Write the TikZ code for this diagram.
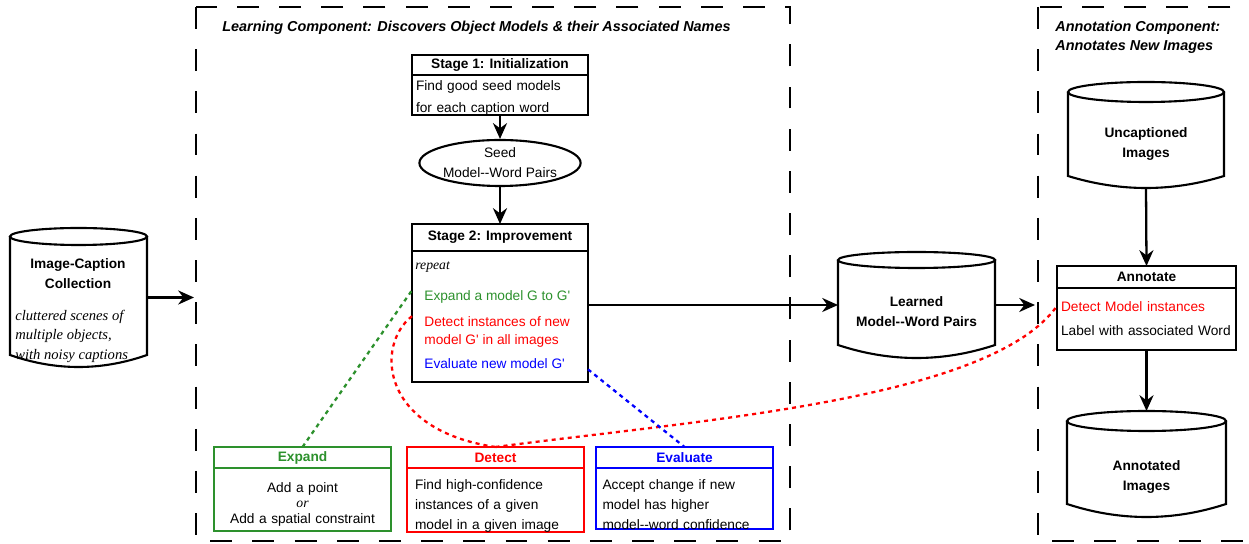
\documentclass[tikz,border=0pt]{standalone}
\usepackage{fontspec}
\setmainfont{Liberation Sans}
\newfontfamily\tnr{Liberation Serif}
\usepackage{xcolor}
\usetikzlibrary{positioning,calc,shapes.geometric,arrows.meta}

\definecolor{expgreen}{RGB}{45,145,45}

% data store outline: node, top ellipse radius, bottom dip (px)
\newcommand{\drawstore}[3]{%
  \draw[storeline] ($(#1.north west)+(0,#2)$) -- ($(#1.south west)+(0,-#3)$)
    .. controls ($(#1.south west)!0.333!(#1.south east)+(0,#3/3)$)
    and ($(#1.south west)!0.667!(#1.south east)+(0,#3/3)$)
    .. ($(#1.south east)+(0,-#3)$) -- ($(#1.north east)+(0,#2)$);
  \draw[storeline] let \p1=($(#1.north east)-(#1.north west)$) in
    ($(#1.north)+(0,#2)$) ellipse [x radius=0.5*\x1, y radius=#2*0.2mm];
}
% push a body text down a little
\newcommand{\topgap}[1]{\rule{0pt}{#1}}

\begin{document}
\begin{tikzpicture}[x=0.2mm,y=-0.2mm,
    every node/.style={font=\fontsize{7.8}{11.4}\selectfont},
    hdr/.style={draw,line width=1.2pt,outer sep=0pt,inner sep=0pt,
      font=\fontsize{7.8}{11.4}\selectfont\bfseries},
    bdy/.style={draw,line width=1.2pt,outer sep=0pt,inner xsep=0.8mm,inner ysep=0pt,align=left},
    store/.style={inner sep=0pt,outer sep=0pt},
    storeline/.style={line width=1.2pt},
    txt/.style={inner sep=0pt},
    arr/.style={-{Stealth[length=9pt,width=8pt]},line width=1.3pt},
    link/.style={line width=1.3pt,dash pattern=on 2.3pt off 2.3pt},
    zone/.style={line width=1.2pt,dash pattern=on 12.5pt off 11.5pt}]
    \useasboundingbox (0,0) rectangle (1249,544);
    \clip (0,0) rectangle (1249,544);

    % components
    \draw[zone] (196,7) rectangle (790,541);
    \draw[zone] (1038,7) rectangle (1275,541);
    \node[txt, anchor=west, font=\fontsize{8.2}{10.8}\selectfont\bfseries\itshape] (lrntitle) at (222,28)
        {Learning Component: Discovers Object Models \& their Associated Names};
    \node[txt, anchor=west, align=left, font=\fontsize{8.2}{10.8}\selectfont\bfseries\itshape] (anntitle) at (1055,37)
        {Annotation Component:\\Annotates New Images};

    % input collection
    \node[store, minimum width=27.4mm, minimum height=27.8mm] (cap) at (78.5,297.5) {};
    \drawstore{cap}{8.5}{12}
    \node[txt, align=center, font=\fontsize{7.8}{11.4}\selectfont\bfseries] (captitle) at (78,274) {Image-Caption\\Collection};
    \node[txt, anchor=west, align=left, font=\fontsize{8.3}{11.1}\selectfont\tnr\itshape] (capnote) at (15,336)
        {cluttered scenes of\\multiple objects,\\with noisy captions};
    \coordinate (lin) at (194,297.5);
    \draw[arr] (cap.east) -- (lin);

    % Stage 1
    \node[hdr, minimum width=35.2mm, minimum height=4mm] (s1hd) at (500,65) {Stage 1: Initialization};
    \node[bdy, text width=33.6mm, minimum height=8mm, below=0pt of s1hd, font=\fontsize{7.8}{12}\selectfont] (s1bd)
        {\topgap{9pt}Find good seed models\\for each caption word};
    \node[ellipse, draw, line width=1.2pt, minimum width=29.6mm, minimum height=9.2mm, inner sep=0pt, align=center] (seed) at (500,163)
        {Seed\\Model-{}-Word Pairs};
    \draw[arr] (s1bd.south) -- (seed.north);

    % Stage 2
    \node[hdr, minimum width=35.2mm, minimum height=5.4mm] (s2hd) at (500,237.5) {Stage 2: Improvement};
    \node[bdy, minimum width=35.2mm, minimum height=26.2mm, below=0pt of s2hd] (s2bd) {};
    \draw[arr] (seed.south) -- (s2hd.north);
    \node[txt, anchor=west, font=\fontsize{7.8}{10}\selectfont\tnr\itshape] (rpt) at (415,267) {repeat};
    \node[txt, anchor=west, text=expgreen] (expl) at (424,297) {Expand a model G to G\textquotesingle};
    \node[txt, anchor=west, align=left, text=red, font=\fontsize{7.8}{10.3}\selectfont] (detl) at (424,332)
        {Detect instances of new\\model G\textquotesingle{} in all images};
    \node[txt, anchor=west, text=blue] (evll) at (424,364) {Evaluate new model G\textquotesingle};

    % learned pairs
    \node[store, minimum width=31.4mm, minimum height=21.2mm] (lrn) at (916.5,305) {};
    \drawstore{lrn}{8}{13}
    \node[txt, align=center, font=\fontsize{7.8}{11.4}\selectfont\bfseries] (lrntxt) at (916.5,312) {Learned\\Model-{}-Word Pairs};
    \draw[arr] (s2bd.east |- lrn.west) -- (lrn.west);
    \coordinate (aout) at (1035,305);
    \draw[arr] (lrn.east) -- (aout);

    % annotation side
    \node[store, minimum width=31.2mm, minimum height=21.2mm] (unc) at (1146,135) {};
    \drawstore{unc}{10}{12}
    \node[txt, align=center, font=\fontsize{7.8}{11.4}\selectfont\bfseries] (unctxt) at (1146,144) {Uncaptioned\\Images};
    \node[hdr, minimum width=35.8mm, minimum height=4.4mm] (anhd) at (1146.5,277) {Annotate};
    \node[bdy, text width=34.2mm, minimum height=12.4mm, below=0pt of anhd, font=\fontsize{7.8}{13.7}\selectfont] (anbd)
        {\textcolor{red}{Detect Model instances}\\Label with associated Word};
    \draw[arr] (unc.south) -- (anhd.north);
    \node[store, minimum width=31.8mm, minimum height=21.2mm] (ann) at (1146.5,464) {};
    \drawstore{ann}{10}{13}
    \node[txt, align=center, font=\fontsize{7.8}{11.4}\selectfont\bfseries] (anntxt) at (1146.5,477) {Annotated\\Images};
    \draw[arr] (anbd.south) -- (ann.north);

    % operation boxes
    \node[hdr, draw=expgreen, text=expgreen, minimum width=35.4mm, minimum height=4.2mm] (exphd) at (302.5,457.5) {Expand};
    \node[bdy, draw=expgreen, text width=33.8mm, align=center, minimum height=12.6mm, below=0pt of exphd,
        font=\fontsize{7.8}{8.8}\selectfont] (expbd)
        {\topgap{11pt}Add a point\\{\tnr\itshape or}\\Add a spatial constraint};
    \node[hdr, draw=red, text=red, minimum width=35.4mm, minimum height=4.2mm] (dethd) at (495.5,457.5) {Detect};
    \node[bdy, draw=red, inner xsep=1.6mm, text width=32.2mm, minimum height=12.2mm, below=0pt of dethd] (detbd)
        {\topgap{12pt}Find high-confidence\\instances of a given\\model in a given image};
    \node[hdr, draw=blue, text=blue, minimum width=35.4mm, minimum height=4.2mm] (evhd) at (684.5,457.5) {Evaluate};
    \node[bdy, draw=blue, inner xsep=1.3mm, text width=32.8mm, minimum height=12.2mm, below=0pt of evhd] (evbd)
        {\topgap{12pt}Accept change if new\\model has higher\\model-{}-word confidence};

    % dotted links
    \draw[link, expgreen] (exphd.north) -- (s2bd.west |- expl.north);
    \draw[link, red] (s2bd.west |- detl.north) .. controls (375,345) and (380,430) .. (dethd.north);
    \draw[link, red] (dethd.north) .. controls (700,420) and (990,400) .. ($(anbd.north west)+(0,18)$);
    \draw[link, blue] (s2bd.east |- evll.south) -- (evhd.north);
\end{tikzpicture}
\end{document}
